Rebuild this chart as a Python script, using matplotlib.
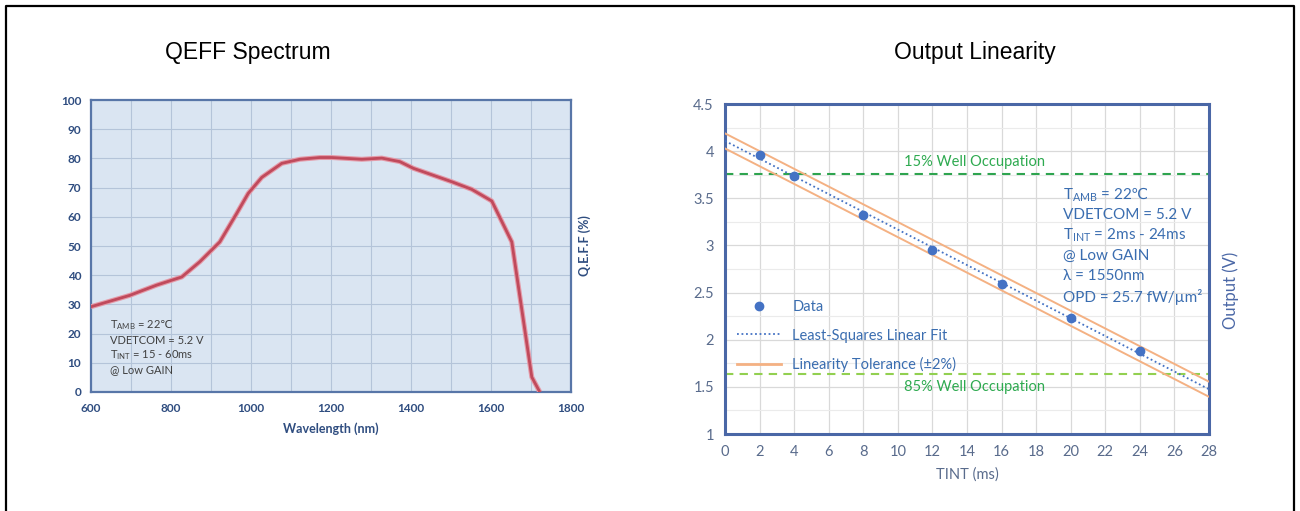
import matplotlib
matplotlib.use("Agg")
import matplotlib.pyplot as plt
from matplotlib.lines import Line2D
import numpy as np

plt.rcParams["font.family"] = ["Lato", "DejaVu Sans"]
plt.rcParams["mathtext.fontset"] = "custom"
plt.rcParams["mathtext.rm"] = "Lato"
plt.rcParams["mathtext.it"] = "Lato:italic"
plt.rcParams["mathtext.bf"] = "Lato:bold"
plt.rcParams["mathtext.sf"] = "DejaVu Sans"   # used for the ℃ sign

# QEFF spectrum
wavelength = [600, 697, 764, 827, 872, 922, 964, 993, 1027, 1077, 1122, 1172,
              1202, 1277, 1327, 1372, 1406, 1502, 1552, 1602, 1652, 1702, 1722]
qeff = [29.2, 33.1, 36.6, 39.4, 44.6, 51.4, 61.1, 68.0, 73.5, 78.3, 79.7, 80.3,
        80.3, 79.7, 80.1, 78.9, 76.6, 72.0, 69.4, 65.4, 51.4, 5.1, 0.0]

# output linearity
tint = [2, 4, 8, 12, 16, 20, 24]
output_v = [3.96, 3.74, 3.32, 2.95, 2.59, 2.23, 1.88]
tolerance = 0.08          # +-2 % of 4 V
well_15 = 3.76
well_85 = 1.64

W, H = 1300, 511
fig = plt.figure(figsize=(W / 100, H / 100), dpi=100)


def px_axes(x0, y0, x1, y1):
    return fig.add_axes([x0 / W, 1 - y1 / H, (x1 - x0) / W, (y1 - y0) / H])


# outer frame (left, top, right)
fig.add_artist(Line2D([6 / W, 6 / W, 1294 / W, 1294 / W], [0, 1 - 6 / H, 1 - 6 / H, 0],
                      color="black", lw=1.6))

fig.text(248 / W, 1 - 52 / H, "QEFF Spectrum", ha="center", va="center",
         fontsize=16.5, family="Liberation Sans")
fig.text(975 / W, 1 - 52 / H, "Output Linearity", ha="center", va="center",
         fontsize=16.5, family="Liberation Sans")

# ---------- left: QEFF spectrum ----------
dark = "#2F4D80"
ax1 = px_axes(91, 100, 571, 392)
ax1.set_facecolor("#DAE5F2")
ax1.plot(wavelength, qeff, color="#E49AA8", lw=3.6, solid_capstyle="butt", zorder=3)
ax1.plot(wavelength, qeff, color="#C04A5C", lw=2.0, zorder=4)
ax1.set_xlim(600, 1800)
ax1.set_ylim(0, 100)
ax1.set_xticks(np.arange(600, 1801, 200))
ax1.set_xticks(np.arange(600, 1801, 100), minor=True)
ax1.set_yticks(np.arange(0, 101, 10))
ax1.grid(True, which="both", color="#B4C4D9", lw=0.8)
ax1.set_axisbelow(True)
ax1.tick_params(which="both", length=0, labelsize=8.5, labelcolor=dark)
ax1.tick_params(axis="x", pad=8)
ax1.tick_params(axis="y", pad=7)
for lab in ax1.get_xticklabels() + ax1.get_yticklabels():
    lab.set_fontweight("bold")
for s in ax1.spines.values():
    s.set_color("#5876A8")
    s.set_linewidth(1.6)
ax1.set_xlabel("Wavelength (nm)", fontsize=9, fontweight="bold", color=dark, labelpad=6)
fig.text(585 / W, 1 - 246 / H, "Q.E.F.F (%)", rotation=90, ha="center", va="center",
         fontsize=9, fontweight="bold", color=dark)
left_notes = [r"T$_{\mathrm{AMB}}$ = 22$\mathsf{℃}$", "VDETCOM = 5.2 V",
              r"T$_{\mathrm{INT}}$ = 15 - 60ms", "@ Low GAIN"]
for i, t in enumerate(left_notes):
    fig.text(110 / W, 1 - (325 + 15 * i) / H, t, fontsize=8, color="#404040",
             va="center", ha="left")

# ---------- right: output linearity ----------
blue = "#4472C4"
txt_blue = "#3A6DB0"
ax2 = px_axes(725, 104, 1209, 434)
slope, icpt = np.polyfit(tint, output_v, 1)
xx = np.array([0, 28])
ax2.plot(xx, icpt + slope * xx + tolerance, color="#F4B183", lw=1.4, zorder=3)
ax2.plot(xx, icpt + slope * xx - tolerance, color="#F4B183", lw=1.4, zorder=3)
ax2.plot(xx, icpt + slope * xx, color=blue, lw=1.3, ls=(0, (1, 1.5)), zorder=4)
ax2.plot(tint, output_v, "o", color=blue, ms=6, zorder=5)
ax2.axhline(well_15, color="#2EA44F", lw=1.5, ls=(0, (4, 3)), zorder=2)
ax2.axhline(well_85, color="#92D050", lw=1.5, ls=(0, (4, 3)), zorder=2)
fig.text(974 / W, 1 - 162 / H, "15% Well Occupation",
         ha="center", va="center", fontsize=10.5, color="#2EAA50")
fig.text(975 / W, 1 - 387 / H, "85% Well Occupation",
         ha="center", va="center", fontsize=10.5, color="#2EAA50")
ax2.set_xlim(0, 28)
ax2.set_ylim(1, 4.5)
ax2.set_xticks(np.arange(0, 29, 2))
ax2.set_yticks(np.arange(1, 4.51, 0.5))
ax2.set_yticks(np.arange(1, 4.51, 0.25), minor=True)
ax2.set_yticklabels(["1", "1.5", "2", "2.5", "3", "3.5", "4", "4.5"])
ax2.grid(True, which="major", color="#D9D9D9", lw=0.9)
ax2.grid(True, which="minor", axis="y", color="#EBEBEB", lw=0.8)
ax2.set_axisbelow(True)
ax2.tick_params(which="both", length=0, pad=8, labelsize=10.5, labelcolor="#596B8C")
for s in ax2.spines.values():
    s.set_color("#4A67A6")
    s.set_linewidth(2.2)
ax2.set_xlabel("TINT (ms)", fontsize=10.5, color="#596B8C", labelpad=6)
fig.text(1231 / W, 1 - 290 / H, "Output (V)", rotation=90, ha="center", va="center",
         fontsize=12, color="#4A67A6")
right_notes = [r"T$_{\mathrm{AMB}}$ = 22$\mathsf{℃}$", "VDETCOM = 5.2 V",
               r"T$_{\mathrm{INT}}$ = 2ms - 24ms", "@ Low GAIN", "λ = 1550nm",
               "OPD = 25.7 fW/µm²"]
for i, t in enumerate(right_notes):
    fig.text(1063 / W, 1 - (195 + 20.3 * i) / H, t, fontsize=11, color=txt_blue,
             va="center", ha="left")

handles = [Line2D([], [], marker="o", ls="none", color=blue, ms=6),
           Line2D([], [], color=blue, lw=1.3, ls=(0, (1, 1.5))),
           Line2D([], [], color="#F4B183", lw=2)]
leg = ax2.legend(handles, ["Data", "Least-Squares Linear Fit", "Linearity Tolerance (±2%)"],
                 loc="upper left", bbox_to_anchor=((737 - 725) / 484, 1 - (300 - 104) / 330),
                 frameon=False, fontsize=10.5, handlelength=3.0, handletextpad=0.8,
                 labelspacing=1.0, borderaxespad=0, borderpad=0)
for t in leg.get_texts():
    t.set_color(txt_blue)

fig.savefig("out.png", dpi=100)
